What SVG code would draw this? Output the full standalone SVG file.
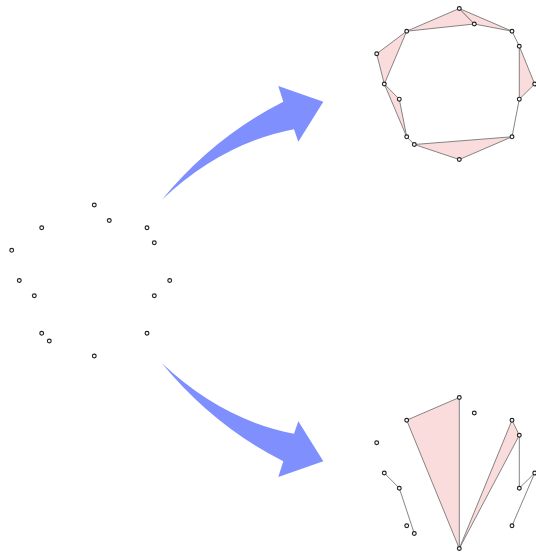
<svg xmlns="http://www.w3.org/2000/svg" width="536" height="552" viewBox="0 0 536 552">
<style>
.pt{fill:#fff;stroke:#222;stroke-width:1.15}
.tri{fill:#fadcdc;stroke:#777;stroke-width:0.9;stroke-linejoin:round}
.seg{fill:none;stroke:#777;stroke-width:0.9}
.arrow{fill:#7f8ffd}
</style>
<rect width="536" height="552" fill="#fff"/>
<g id="arrows">
<path id="arrow-up" class="arrow" d="M161.7,200 Q213.5,137 283.3,101.7 L278.3,86 L323.3,101.7 L298.3,141.7 L294,129.3 Q222,143 161.7,200 Z"/>
<path id="arrow-down" class="arrow" transform="matrix(1,0,0,-1,0,563)" d="M161.7,200 Q213.5,137 283.3,101.7 L278.3,86 L323.3,101.7 L298.3,141.7 L294,129.3 Q222,143 161.7,200 Z"/>
</g>
<g id="connectors">
<g id="top-connectors">
<polygon class="tri" points="406.7,31.2 459.3,8.5 474.3,24"/>
<polygon class="tri" points="459.3,8.5 512,31.2 474.3,24"/>
<polygon class="tri" points="519.3,46.2 534.7,84 519.3,99.2"/>
<polygon class="tri" points="512,136.8 459.3,159.5 414.3,144.5"/>
<polygon class="tri" points="406.7,136.8 399.3,99.2 384.3,84"/>
<polygon class="tri" points="384.3,84 376.7,53.8 406.7,31.2"/>
<line class="seg" x1="512" y1="31.2" x2="519.3" y2="46.2"/>
<line class="seg" x1="519.3" y1="99.2" x2="512" y2="136.8"/>
<line class="seg" x1="406.7" y1="136.8" x2="414.3" y2="144.5"/>
</g>
<g id="bottom-connectors">
<polygon class="tri" points="406.7,420.2 459.3,397.5 459.3,548.5"/>
<polygon class="tri" points="459.3,548.5 512,420.2 519.3,435.2"/>
<line class="seg" x1="519.3" y1="435.2" x2="519.3" y2="488.2"/>
<line class="seg" x1="519.3" y1="488.2" x2="534.7" y2="473"/>
<line class="seg" x1="534.7" y1="473" x2="512" y2="525.8"/>
<line class="seg" x1="384.3" y1="473" x2="399.3" y2="488.2"/>
<line class="seg" x1="399.3" y1="488.2" x2="414.3" y2="533.5"/>
</g>
</g>
<g id="left-points">
<g id="L-A"><circle class="pt" cx="94.3" cy="205" r="1.9"/></g>
<g id="L-B"><circle class="pt" cx="109.3" cy="220.5" r="1.9"/></g>
<g id="L-C"><circle class="pt" cx="41.7" cy="227.7" r="1.9"/></g>
<g id="L-D"><circle class="pt" cx="147" cy="227.7" r="1.9"/></g>
<g id="L-E"><circle class="pt" cx="154.3" cy="242.7" r="1.9"/></g>
<g id="L-F"><circle class="pt" cx="11.7" cy="250.3" r="1.9"/></g>
<g id="L-G"><circle class="pt" cx="19.3" cy="280.5" r="1.9"/></g>
<g id="L-H"><circle class="pt" cx="169.7" cy="280.5" r="1.9"/></g>
<g id="L-I"><circle class="pt" cx="34.3" cy="295.7" r="1.9"/></g>
<g id="L-J"><circle class="pt" cx="154.3" cy="295.7" r="1.9"/></g>
<g id="L-K"><circle class="pt" cx="41.7" cy="333.3" r="1.9"/></g>
<g id="L-L"><circle class="pt" cx="147" cy="333.3" r="1.9"/></g>
<g id="L-M"><circle class="pt" cx="49.3" cy="341" r="1.9"/></g>
<g id="L-N"><circle class="pt" cx="94.3" cy="356" r="1.9"/></g>
</g>
<g id="top-points">
<g id="T-A"><circle class="pt" cx="459.3" cy="8.5" r="1.9"/></g>
<g id="T-B"><circle class="pt" cx="474.3" cy="24" r="1.9"/></g>
<g id="T-C"><circle class="pt" cx="406.7" cy="31.2" r="1.9"/></g>
<g id="T-D"><circle class="pt" cx="512" cy="31.2" r="1.9"/></g>
<g id="T-E"><circle class="pt" cx="519.3" cy="46.2" r="1.9"/></g>
<g id="T-F"><circle class="pt" cx="376.7" cy="53.8" r="1.9"/></g>
<g id="T-G"><circle class="pt" cx="384.3" cy="84" r="1.9"/></g>
<g id="T-H"><circle class="pt" cx="534.7" cy="84" r="1.9"/></g>
<g id="T-I"><circle class="pt" cx="399.3" cy="99.2" r="1.9"/></g>
<g id="T-J"><circle class="pt" cx="519.3" cy="99.2" r="1.9"/></g>
<g id="T-K"><circle class="pt" cx="406.7" cy="136.8" r="1.9"/></g>
<g id="T-L"><circle class="pt" cx="512" cy="136.8" r="1.9"/></g>
<g id="T-M"><circle class="pt" cx="414.3" cy="144.5" r="1.9"/></g>
<g id="T-N"><circle class="pt" cx="459.3" cy="159.5" r="1.9"/></g>
</g>
<g id="bottom-points">
<g id="B-A"><circle class="pt" cx="459.3" cy="397.5" r="1.9"/></g>
<g id="B-B"><circle class="pt" cx="474.3" cy="413" r="1.9"/></g>
<g id="B-C"><circle class="pt" cx="406.7" cy="420.2" r="1.9"/></g>
<g id="B-D"><circle class="pt" cx="512" cy="420.2" r="1.9"/></g>
<g id="B-E"><circle class="pt" cx="519.3" cy="435.2" r="1.9"/></g>
<g id="B-F"><circle class="pt" cx="376.7" cy="442.8" r="1.9"/></g>
<g id="B-G"><circle class="pt" cx="384.3" cy="473" r="1.9"/></g>
<g id="B-H"><circle class="pt" cx="534.7" cy="473" r="1.9"/></g>
<g id="B-I"><circle class="pt" cx="399.3" cy="488.2" r="1.9"/></g>
<g id="B-J"><circle class="pt" cx="519.3" cy="488.2" r="1.9"/></g>
<g id="B-K"><circle class="pt" cx="406.7" cy="525.8" r="1.9"/></g>
<g id="B-L"><circle class="pt" cx="512" cy="525.8" r="1.9"/></g>
<g id="B-M"><circle class="pt" cx="414.3" cy="533.5" r="1.9"/></g>
<g id="B-N"><circle class="pt" cx="459.3" cy="548.5" r="1.9"/></g>
</g>
</svg>
